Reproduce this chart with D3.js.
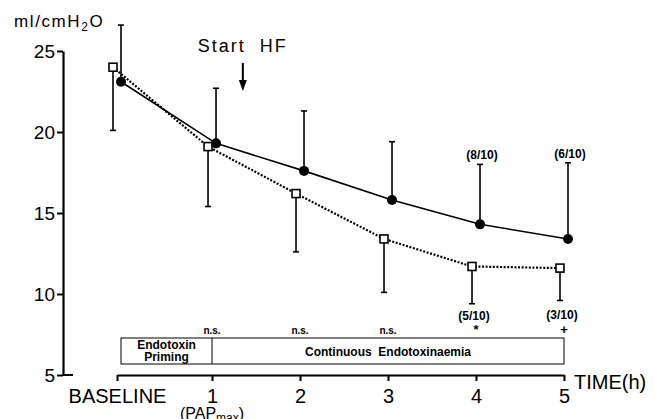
<!DOCTYPE html>
<html>
<head>
<meta charset="utf-8">
<script src="https://cdn.jsdelivr.net/npm/d3@7"></script>
<style>
  body { margin: 0; background: #fff; }
  text { font-family: "Liberation Sans", Arial, sans-serif; fill: #000; }
</style>
</head>
<body>
<div id="chart"></div>
<script>
// time points (baseline sits a little left of an even spacing)
const timeLabels = ["BASELINE", "1", "2", "3", "4", "5"];
const timePos = [-0.08, 1, 2, 3, 4, 5];

// filled circles, solid line (mean + upper SD)
const hfMean = [23.1, 19.3, 17.6, 15.8, 14.3, 13.4];
const hfUpper = [26.6, 22.7, 21.3, 19.4, 18.0, 18.1];
const hfCounts = [null, null, null, null, "(8/10)", "(6/10)"];

// open squares, dotted line (mean - lower SD)
const ctrlMean = [24.0, 19.1, 16.2, 13.4, 11.7, 11.6];
const ctrlLower = [20.1, 15.4, 12.6, 10.1, 9.4, 9.6];
const ctrlCounts = [null, null, null, null, "(5/10)", "(3/10)"];

const yTicks = [5, 10, 15, 20, 25];
const sigLabels = [null, "n.s.", "n.s.", "n.s.", "*", "+"];
const startHF = 1.35;

const width = 653, height = 419;

const svg = d3.select("#chart").append("svg")
  .attr("width", width)
  .attr("height", height);

const x = d3.scaleLinear().domain([-0.08, 5]).range([117, 564]);
const y = d3.scaleLinear().domain([5, 25]).range([375, 51]);

// y axis
const yAxis = svg.append("g")
  .attr("transform", "translate(63,0)")
  .call(d3.axisLeft(y).tickValues(yTicks).tickSize(6).tickSizeOuter(0).tickPadding(2));
yAxis.select(".domain").attr("stroke-width", 2.2);
yAxis.selectAll(".tick line").attr("stroke-width", 2);
yAxis.selectAll(".tick text").attr("font-size", 19).attr("font-family", "Liberation Sans, Arial, sans-serif");
yAxis.append("line").attr("x1", 0).attr("x2", 10).attr("y1", y(5)).attr("y2", y(5))
  .attr("stroke", "#000").attr("stroke-width", 2);

// x axis
const xAxis = svg.append("g")
  .attr("transform", `translate(0,${y(5)})`)
  .call(d3.axisBottom(x).tickValues(timePos).tickFormat((d, i) => timeLabels[i])
    .tickSize(6).tickSizeOuter(0).tickPadding(8));
xAxis.select(".domain").attr("stroke-width", 2.2);
xAxis.selectAll(".tick line").attr("stroke-width", 2);
xAxis.selectAll(".tick text").attr("font-size", 20).attr("font-family", "Liberation Sans, Arial, sans-serif");

svg.append("text")
  .attr("x", x(5) + 10).attr("y", y(5) + 14)
  .attr("font-size", 20)
  .text("TIME(h)");

const pap = svg.append("text")
  .attr("x", x(1)).attr("y", 419)
  .attr("text-anchor", "middle")
  .attr("font-size", 16);
pap.append("tspan").text("(PAP");
pap.append("tspan").attr("font-size", 12).attr("dy", 3).text("max");
pap.append("tspan").attr("dy", -3).text(")");

// y label
const yl = svg.append("text")
  .attr("x", 14).attr("y", 27)
  .attr("font-size", 17)
  .attr("letter-spacing", 1.6);
yl.append("tspan").text("ml/cmH");
yl.append("tspan").attr("font-size", 12).attr("dy", 4).text("2");
yl.append("tspan").attr("dy", -4).text("O");

// phase band
const bandTop = y(5) - 37, bandBottom = y(5) - 11;
const band = svg.append("g");
band.append("rect")
  .attr("x", x(timePos[0]) + 4).attr("y", bandTop)
  .attr("width", x(5) - x(timePos[0]) - 4).attr("height", bandBottom - bandTop)
  .attr("fill", "none").attr("stroke", "#000").attr("stroke-width", 1);
band.append("line")
  .attr("x1", x(1)).attr("x2", x(1)).attr("y1", bandTop).attr("y2", bandBottom)
  .attr("stroke", "#000").attr("stroke-width", 1);
const prim = band.append("text")
  .attr("x", (x(timePos[0]) + 4 + x(1)) / 2).attr("y", bandTop + 11)
  .attr("text-anchor", "middle").attr("font-size", 12).attr("font-weight", "bold");
prim.append("tspan").text("Endotoxin");
prim.append("tspan").attr("x", (x(timePos[0]) + 4 + x(1)) / 2).attr("dy", 11.5).text("Priming");
band.append("text")
  .attr("x", (x(1) + x(5)) / 2).attr("y", bandTop + 18)
  .attr("text-anchor", "middle").attr("font-size", 12).attr("font-weight", "bold")
  .style("white-space", "pre")
  .text("Continuous  Endotoxinaemia");

svg.selectAll(".sig")
  .data(sigLabels.map((s, i) => ({ s, t: timePos[i] })).filter(d => d.s))
  .join("text")
  .attr("class", "sig")
  .attr("x", d => x(d.t)).attr("y", bandTop - 4)
  .attr("text-anchor", "middle")
  .attr("font-size", d => d.s === "n.s." ? 10 : 13)
  .attr("font-weight", "bold")
  .text(d => d.s);

// Start HF arrow
const ax = x(startHF);
svg.append("text")
  .attr("x", ax).attr("y", 52)
  .attr("text-anchor", "middle").attr("font-size", 18)
  .attr("letter-spacing", 2).style("white-space", "pre")
  .text("Start  HF");
svg.append("line")
  .attr("x1", ax).attr("x2", ax).attr("y1", 63).attr("y2", 82)
  .attr("stroke", "#000").attr("stroke-width", 2);
svg.append("path")
  .attr("d", `M${ax - 4},80L${ax + 4},80L${ax},91Z`)
  .attr("fill", "#000");

// series
const hf = hfMean.map((m, i) => ({ t: timePos[i], m, e: hfUpper[i], c: hfCounts[i] }));
const ctrl = ctrlMean.map((m, i) => ({ t: timePos[i], m, e: ctrlLower[i], c: ctrlCounts[i] }));
const hfDx = 4, ctrlDx = -4;

function errorBars(data, dx) {
  const g = svg.append("g").attr("stroke", "#000").attr("stroke-width", 1.6);
  g.selectAll(".bar").data(data).join("line")
    .attr("x1", d => x(d.t) + dx).attr("x2", d => x(d.t) + dx)
    .attr("y1", d => y(d.m)).attr("y2", d => y(d.e));
  g.selectAll(".cap").data(data).join("line")
    .attr("x1", d => x(d.t) + dx - 3).attr("x2", d => x(d.t) + dx + 3)
    .attr("y1", d => y(d.e)).attr("y2", d => y(d.e));
}
errorBars(hf, hfDx);
errorBars(ctrl, ctrlDx);

svg.append("path")
  .datum(ctrl)
  .attr("fill", "none").attr("stroke", "#000").attr("stroke-width", 2.2)
  .attr("stroke-dasharray", "2,1.6")
  .attr("d", d3.line().x(d => x(d.t) + ctrlDx).y(d => y(d.m)));

svg.append("path")
  .datum(hf)
  .attr("fill", "none").attr("stroke", "#000").attr("stroke-width", 1.6)
  .attr("d", d3.line().x(d => x(d.t) + hfDx).y(d => y(d.m)));

svg.selectAll(".sq").data(ctrl).join("rect")
  .attr("x", d => x(d.t) + ctrlDx - 4).attr("y", d => y(d.m) - 4)
  .attr("width", 8).attr("height", 8)
  .attr("fill", "#fff").attr("stroke", "#000").attr("stroke-width", 1.6);

svg.selectAll(".dot").data(hf).join("circle")
  .attr("cx", d => x(d.t) + hfDx).attr("cy", d => y(d.m))
  .attr("r", 5).attr("fill", "#000");

// n counts
svg.selectAll(".hfc").data(hf.filter(d => d.c)).join("text")
  .attr("x", d => x(d.t) + hfDx + 2).attr("y", d => y(d.e) - 5)
  .attr("text-anchor", "middle").attr("font-size", 12).attr("font-weight", "bold")
  .text(d => d.c);
svg.selectAll(".ctc").data(ctrl.filter(d => d.c)).join("text")
  .attr("x", d => x(d.t) + ctrlDx + 2).attr("y", (d, i) => y(d.e) + (i ? 19 : 16))
  .attr("text-anchor", "middle").attr("font-size", 12).attr("font-weight", "bold")
  .text(d => d.c);
</script>
</body>
</html>
